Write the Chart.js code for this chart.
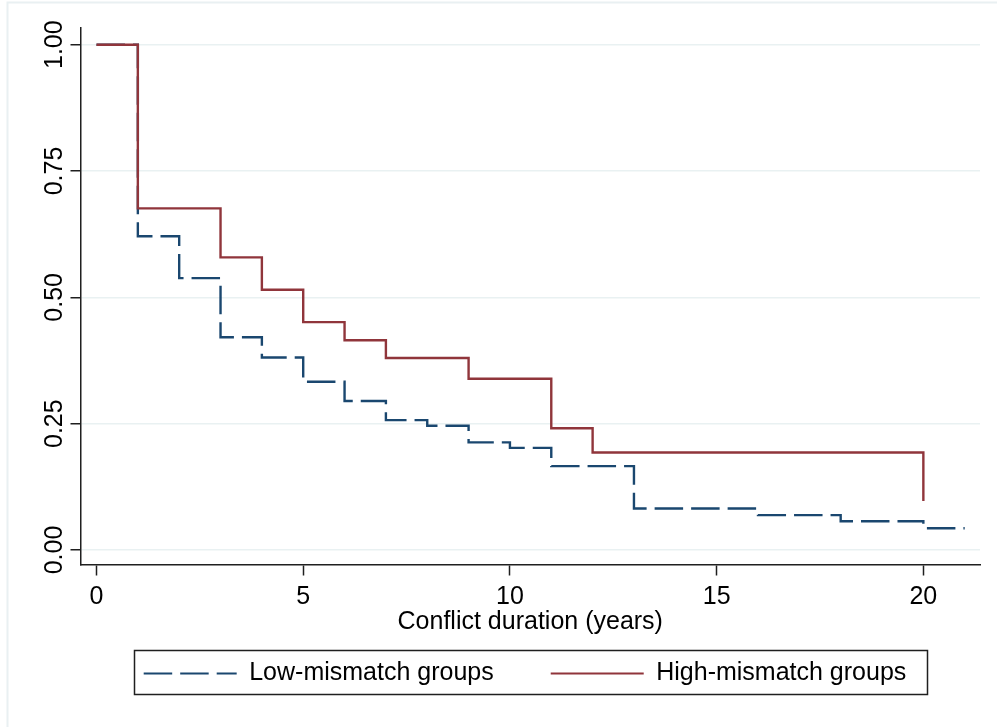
<!DOCTYPE html>
<html>
<head>
<meta charset="utf-8">
<script src="https://cdn.jsdelivr.net/npm/chart.js@4/dist/chart.umd.min.js"></script>
<style>
  html, body { margin: 0; padding: 0; background: #ffffff; }
  #wrap { position: relative; width: 997px; height: 727px; }
  canvas { display: block; }
</style>
</head>
<body>
<div id="wrap"><canvas id="c" width="997" height="727"></canvas></div>
<script>
// ---- Data ----
const lowTimes  = [0, 1, 2, 3, 4, 5, 6, 7, 8, 9, 10, 11, 13, 16, 18, 20, 21];
const lowSurv   = [1.00, 0.621, 0.538, 0.421, 0.381, 0.333, 0.295, 0.257, 0.246, 0.213, 0.202, 0.166, 0.082, 0.069, 0.057, 0.043, 0.043];
const highTimes = [0, 1, 3, 4, 5, 6, 7, 9, 11, 12, 20];
const highSurv  = [1.00, 0.676, 0.579, 0.515, 0.451, 0.415, 0.380, 0.339, 0.241, 0.193, 0.097];
const seriesNames = ['Low-mismatch groups', 'High-mismatch groups'];
const xTickValues = [0, 5, 10, 15, 20];
const xTickLabels = ['0', '5', '10', '15', '20'];
const yTickValues = [0, 0.25, 0.5, 0.75, 1.0];
const yTickLabels = ['0.00', '0.25', '0.50', '0.75', '1.00'];
const xTitle = 'Conflict duration (years)';

const FONT = 'Liberation Sans, Arial, sans-serif';
const AXIS = '#1f1f1f';
const LEGEND_SHIFT = 20;

const frame = {
  id: 'frame',
  afterLayout(chart) {
    const lg = chart.legend;
    if (lg) { lg.left += LEGEND_SHIFT; lg.right += LEGEND_SHIFT; }
  },
  beforeDraw(chart) {
    const ctx = chart.ctx;
    ctx.save();
    ctx.fillStyle = '#ffffff';
    ctx.fillRect(0, 0, chart.width, chart.height);
    ctx.strokeStyle = '#e9f0f2';
    ctx.lineWidth = 2;
    ctx.beginPath();
    ctx.moveTo(7.5, 727); ctx.lineTo(7.5, 2.5); ctx.lineTo(997, 2.5);
    ctx.stroke();
    ctx.restore();
  },
  afterDraw(chart) {
    const lg = chart.legend;
    if (!lg || !lg.legendHitBoxes || !lg.legendHitBoxes.length) return;
    const hb = lg.legendHitBoxes;
    let l = Infinity, r = -Infinity, t = Infinity, b = -Infinity;
    hb.forEach(h => { l = Math.min(l, h.left); r = Math.max(r, h.left + h.width); t = Math.min(t, h.top); b = Math.max(b, h.top + h.height); });
    const ctx = chart.ctx;
    ctx.save();
    ctx.strokeStyle = AXIS;
    ctx.lineWidth = 1.5;
    ctx.strokeRect(Math.round(l - 10) + 0.5, Math.round(t - 11) + 0.5, Math.round(r - l + 30), Math.round(b - t + 19));
    ctx.restore();
  }
};

new Chart(document.getElementById('c'), {
  type: 'line',
  data: {
    datasets: [
      {
        label: seriesNames[0],
        data: lowTimes.map((t, i) => ({ x: t, y: lowSurv[i] })),
        borderColor: '#1a476f',
        backgroundColor: '#1a476f',
        borderWidth: 2.4,
        borderDash: [28.5, 8],
        stepped: 'before',
        pointRadius: 0,
        pointHoverRadius: 0,
        pointStyle: 'line',
        fill: false,
        order: 1
      },
      {
        label: seriesNames[1],
        data: highTimes.map((t, i) => ({ x: t, y: highSurv[i] })),
        borderColor: '#90353b',
        backgroundColor: '#90353b',
        borderWidth: 2.4,
        stepped: 'before',
        pointRadius: 0,
        pointHoverRadius: 0,
        pointStyle: 'line',
        fill: false,
        order: 0
      }
    ]
  },
  options: {
    responsive: false,
    animation: false,
    devicePixelRatio: 1,
    layout: { padding: { left: 30, right: 17, top: 28, bottom: 31 } },
    plugins: {
      tooltip: { enabled: false },
      legend: {
        position: 'bottom',
        labels: {
          usePointStyle: true,
          pointStyle: 'line',
          pointStyleWidth: 93,
          boxHeight: 25,
          padding: 57,
          color: '#000',
          font: { family: FONT, size: 25 },
          sort: (a, b) => a.datasetIndex - b.datasetIndex,
          generateLabels: chart => {
            const items = Chart.defaults.plugins.legend.labels.generateLabels(chart);
            items.forEach(it => {
              const ds = chart.data.datasets[it.datasetIndex];
              it.lineDash = ds.borderDash || [];
              it.lineWidth = 2;
              it.strokeStyle = ds.borderColor;
              it.fillStyle = ds.borderColor;
              it.pointStyle = 'line';
            });
            return items;
          }
        }
      }
    },
    scales: {
      x: {
        type: 'linear',
        min: -0.387,
        max: 21.37,
        afterBuildTicks: s => { s.ticks = xTickValues.map(v => ({ value: v })); },
        afterFit: s => { s.height = 39.5; },
        border: { display: true, color: AXIS, width: 1.5 },
        grid: { display: true, drawOnChartArea: false, drawTicks: true, tickLength: 11, tickColor: AXIS, tickWidth: 1.5 },
        ticks: {
          autoSkip: false, maxRotation: 0, minRotation: 0, padding: 6.5,
          color: '#000', font: { family: FONT, size: 25 },
          callback: v => xTickLabels[xTickValues.indexOf(v)]
        },
        title: {
          display: true, text: xTitle, color: '#000',
          font: { family: FONT, size: 25 },
          padding: { top: 0, bottom: -33 }
        }
      },
      y: {
        type: 'linear',
        min: -0.0287,
        max: 1.033,
        afterBuildTicks: s => { s.ticks = yTickValues.map(v => ({ value: v })); },
        afterFit: s => { s.width = 50.5; },
        border: { display: true, color: AXIS, width: 1.5 },
        grid: { display: true, color: '#e9f1f2', lineWidth: 1.5, drawTicks: true, tickLength: 10, tickColor: AXIS, tickWidth: 1.5 },
        ticks: {
          autoSkip: false, minRotation: 90, maxRotation: 90, crossAlign: 'center', padding: -9,
          color: '#000', font: { family: FONT, size: 25 },
          callback: v => yTickLabels[yTickValues.indexOf(v)]
        }
      }
    }
  },
  plugins: [frame]
});
</script>
</body>
</html>
